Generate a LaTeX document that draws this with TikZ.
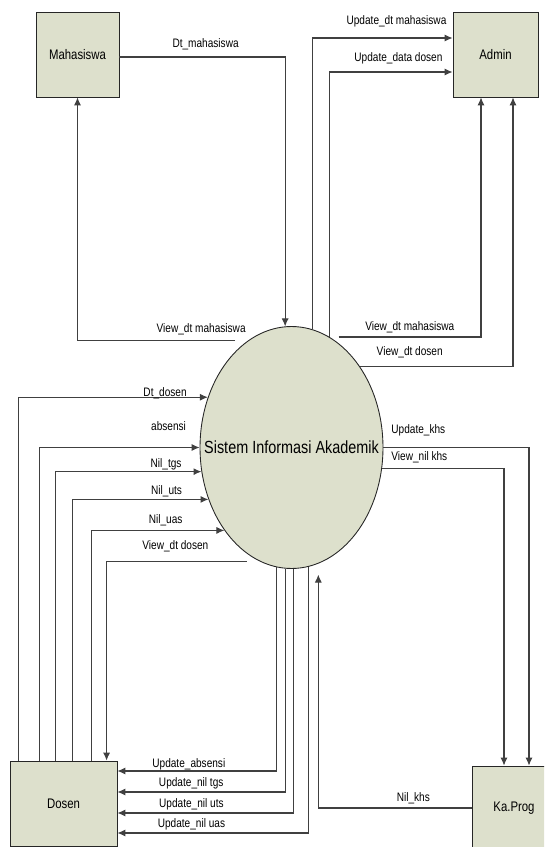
\documentclass[tikz,border=0pt]{standalone}
\usepackage{fontspec}
\newfontfamily\dfdfont{Liberation Sans}[FakeStretch=0.82]
\usetikzlibrary{calc,shapes.geometric,arrows.meta}
\definecolor{dfdfill}{RGB}{221,224,204}

\begin{document}
\begin{tikzpicture}[x=0.02cm, y=-0.02cm,
    >={Latex[length=4.5pt,width=4pt]},
    entity/.style={draw=black!85, fill=dfdfill, line width=0.5pt, inner sep=0pt,
        font=\dfdfont\fontsize{7.9}{9}\selectfont},
    process/.style={ellipse, draw=black!85, fill=dfdfill, line width=0.5pt, inner sep=0pt,
        minimum width=3.66cm, minimum height=4.84cm},
    flow/.style={->, draw=black!75, line width=0.6pt},
    lbl/.style={anchor=base, inner sep=0pt, font=\dfdfont\fontsize{7}{8}\selectfont}]

    % Page size of the diagram
    \useasboundingbox (0,0) rectangle (544,847);
    \clip (0,0) rectangle (544,847);

    % Draw external entities
    \node[entity, minimum width=1.66cm, minimum height=1.7cm] (mhs) at (77.5,54.5) {Mahasiswa};
    \node[entity, minimum width=1.7cm, minimum height=1.7cm] (admin) at (495.5,54.5) {Admin};
    \node[entity, minimum width=2.14cm, minimum height=1.7cm] (dosen) at (63.5,803.5) {Dosen};
    \node[entity, minimum width=1.68cm, minimum height=1.68cm] (kaprog) at (514,808) {Ka.Prog};

    % Draw the system
    \node[process, label={[font=\dfdfont\fontsize{10}{12}\selectfont]center:Sistem Informasi Akademik}]
        (sia) at (291.5,447.5) {};

    % Draw flows of Mahasiswa
    \draw[flow] ($(mhs.east)+(0,2.5)$) -| node[lbl, pos=0.26, yshift=5.4pt] (l-dtmhs) {Dt\_mahasiswa} (sia.93);
    \draw[flow] ($(sia.112)+(-13,0)$) -| node[lbl, pos=0.108, yshift=4.25pt] (l-vmhs) {View\_dt mahasiswa} (mhs.south);

    % Draw flows of Admin
    \draw[flow] (sia.80) |- node[lbl, pos=0.80, yshift=7.7pt] (l-upmhs) {Update\_dt mahasiswa} ($(admin.west)+(0,-16.5)$);
    \draw[flow] (sia.71) |- node[lbl, pos=0.78, yshift=6pt] (l-updsn) {Update\_data dosen} ($(admin.west)+(0,17.5)$);
    \draw[flow] ($(sia.71)+(9,0)$) -| node[lbl, pos=0.25, yshift=3.7pt] (l-vamhs) {View\_dt mahasiswa} ($(admin.south)+(-14.5,0)$);
    \draw[flow] (sia.50) -| node[lbl, pos=0.163, yshift=6pt] (l-vadsn) {View\_dt dosen} ($(admin.south)+(17.5,0)$);

    % Draw flows of Ka.Prog
    \draw[flow] (sia.east) -| node[lbl, pos=0.12, yshift=7.7pt] (l-upkhs) {Update\_khs} ($(kaprog.north)+(15,0)$);
    \draw[flow] (sia.347) -| node[lbl, pos=0.153, yshift=4.25pt] (l-vkhs) {View\_nil khs} ($(kaprog.north)+(-10,0)$);
    \draw[flow] (kaprog.west) -| node[lbl, pos=0.19, yshift=3.7pt] (l-nkhs) {Nil\_khs} ($(sia.283)+(0,11)$);

    % Draw flows from Dosen
    \draw[flow] ($(dosen.north west)+(9,0)$) |- node[lbl, pos=0.887, yshift=0.3pt] (l-dtdsn) {Dt\_dosen} (sia.149);
    \draw[flow] ($(dosen.north west)+(30,0)$) |- node[lbl, pos=0.903, yshift=9.9pt] (l-abs) {absensi} (sia.180);
    \draw[flow] ($(dosen.north west)+(46,0)$) |- node[lbl, pos=0.879, yshift=2.55pt] (l-tgs) {Nil\_tgs} (sia.195);
    \draw[flow] ($(dosen.north west)+(63,0)$) |- node[lbl, pos=0.846, yshift=2.55pt] (l-uts) {Nil\_uts} (sia.212);
    \draw[flow] ($(dosen.north west)+(82,0)$) |- node[lbl, pos=0.779, yshift=3.7pt] (l-uas) {Nil\_uas} (sia.231);
    \draw[flow] ($(sia.254)+(-12,0)$) -| node[lbl, pos=0.255, yshift=6.5pt] (l-vdsn) {View\_dt dosen} ($(dosen.north west)+(97,0)$);

    % Draw flows to Dosen
    \draw[flow] (sia.263) |- node[lbl, pos=0.776, yshift=2pt] (l-uabs) {Update\_absensi} ($(dosen.east)+(0,-32.5)$);
    \draw[flow] (sia.267) |- node[lbl, pos=0.78, yshift=3.1pt] (l-utgs) {Update\_nil tgs} ($(dosen.east)+(0,-11.5)$);
    \draw[flow] (sia.271) |- node[lbl, pos=0.79, yshift=3.1pt] (l-uuts) {Update\_nil uts} ($(dosen.east)+(0,9.5)$);
    \draw[flow] (sia.278) |- node[lbl, pos=0.806, yshift=3.1pt] (l-uuas) {Update\_nil uas} ($(dosen.east)+(0,29.5)$);

\end{tikzpicture}
\end{document}
